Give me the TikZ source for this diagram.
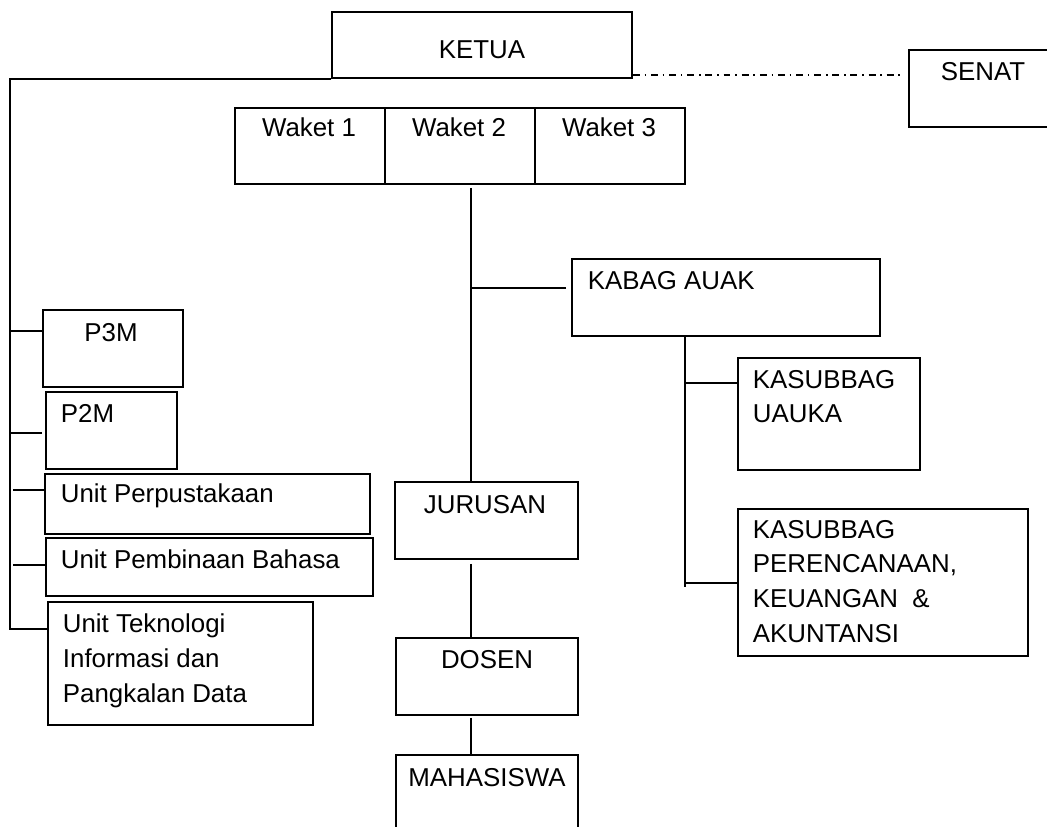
\documentclass[tikz,border=0pt]{standalone}
\usepackage{fontspec}
\setmainfont{Liberation Sans}
\usetikzlibrary{calc}

\tikzset{every picture/.style={line width=1.4pt}}
\tikzset{
  orgbox/.style 2 args={draw, rectangle, anchor=north west, inner sep=0pt,
    minimum width=#1*0.75pt, minimum height=#2*0.75pt},
  boxtext/.style={inner sep=0pt, font=\fontsize{19.4}{26}\selectfont, align=left},
  senatlink/.style={dash pattern=on 5.2pt off 3.6pt on 1.2pt off 3.6pt}
}

\begin{document}
\begin{tikzpicture}[x=0.75pt,y=0.75pt,yscale=-1,xscale=1]
	\clip (0,0) rectangle (1047,827);

	%Shape: Rectangle
	\node[orgbox={300}{66}] (ketua) at (331,11) {};
	\node[orgbox={160}{77}] (senat) at (908,49) {};
	\foreach \i/\xx in {1/234,2/384,3/534}
		\node[orgbox={150}{76}] (waket\i) at (\xx,107) {};
	%Shape: Rectangle
	\node[orgbox={308}{77}] (kabag) at (571,258) {};
	\node[orgbox={182}{112}] (kasubuau) at (737,357) {};
	\node[orgbox={290}{147}] (kasubren) at (737,508) {};
	%Shape: Rectangle
	\node[orgbox={183}{77}] (jurusan) at (394,481) {};
	\node[orgbox={182}{77}] (dosen) at (395,637) {};
	\node[orgbox={182}{100}] (mhs) at (395,754) {};
	%Shape: Rectangle
	\node[orgbox={140}{77}] (p3m) at (42,309) {};
	\node[orgbox={131}{77}] (p2m) at (45,391) {};
	\node[orgbox={325}{60}] (perpus) at (44,473) {};
	\node[orgbox={327}{58}] (bahasa) at (45,537) {};
	\node[orgbox={265}{123}] (tik) at (47,601) {};

	%Straight Lines
	\coordinate (trunk) at (10,629);
	\draw (ketua.south west) -| (trunk) -- (trunk -| tik.west);
	\draw ($(p3m.north west)+(0,22)$) coordinate (bp3m) -- (bp3m -| trunk);
	\draw ($(p2m.north west)+(-3,42)$) coordinate (bp2m) -- (bp2m -| trunk);
	\draw ($(perpus.north west)+(0,17)$) coordinate (bperpus) -- ($(bperpus -| trunk)+(3,0)$);
	\draw ($(bahasa.north west)+(0,28)$) coordinate (bbahasa) -- ($(bbahasa -| trunk)+(3,0)$);
	%Straight Lines
	\draw[senatlink] ($(ketua.south east)+(0,-4)$) coordinate (bsenat) -- ($(bsenat -| senat.west)+(-5,0)$);
	%Straight Lines
	\draw ($(waket2.south)+(11,3)$) coordinate (spine) -- (spine |- jurusan.north);
	\draw ($(kabag.north west)+(-5,30)$) coordinate (bkabag) -- (bkabag -| spine);
	\draw ($(spine |- jurusan.south)+(0,4)$) -- (spine |- dosen.north);
	\draw ($(spine |- dosen.south)+(0,2)$) -- (spine |- mhs.north);
	%Straight Lines
	\draw ($(kabag.south west)+(114,0)$) coordinate (kstem) -- ($(kstem |- kasubren.north west)+(0,79)$);
	\draw ($(kasubuau.north west)+(0,26)$) coordinate (buau) -- (buau -| kstem);
	\draw ($(kasubren.north west)+(0,75)$) coordinate (bren) -- (bren -| kstem);

	% Text Node
	\node[boxtext, anchor=base] (tketua) at (482,59) {KETUA};
	% Text Node
	\node[boxtext, anchor=base] (tsenat) at (983,81) {SENAT};
	% Text Node
	\foreach \i/\xx in {1/309,2/459,3/609}
		\node[boxtext, anchor=base] (twaket\i) at (\xx,137) {Waket \i};
	% Text Node
	\node[boxtext, anchor=base] (tp3m) at (111,342) {P3M};
	% Text Node
	\node[boxtext, anchor=base west] (tp2m) at (60,423) {P2M};
	% Text Node
	\node[boxtext, anchor=base west] (tperpus) at (60,503) {Unit Perpustakaan};
	% Text Node
	\node[boxtext, anchor=base west] (tbahasa) at (60,568) {Unit Pembinaan Bahasa};
	% Text Node
	\node[boxtext, anchor=base west] (ttik) at (62,702) {Unit Teknologi\\Informasi dan\\Pangkalan Data};
	% Text Node
	\node[boxtext, anchor=base west] (tkabag) at (587,290) {KABAG AUAK};
	% Text Node
	\node[boxtext, anchor=base west] (tuauka) at (752,423) {KASUBBAG\\UAUKA};
	% Text Node
	\node[boxtext, anchor=base west] (tren) at (752,642) {KASUBBAG\\PERENCANAAN,\\KEUANGAN \ \&\\AKUNTANSI};
	% Text Node
	\node[boxtext, anchor=base] (tjurusan) at (485,513) {JURUSAN};
	% Text Node
	\node[boxtext, anchor=base] (tdosen) at (487,668) {DOSEN};
	% Text Node
	\node[boxtext, anchor=base] (tmhs) at (487,786) {MAHASISWA};

\end{tikzpicture}
\end{document}
